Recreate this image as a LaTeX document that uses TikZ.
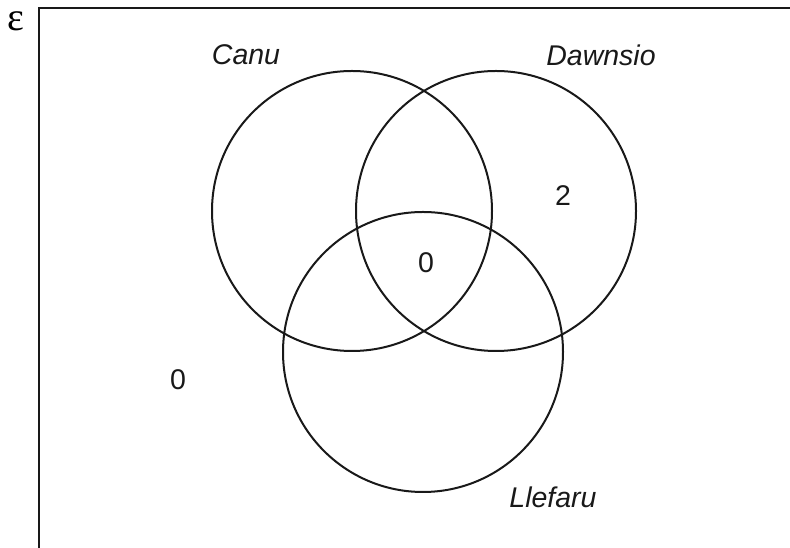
\documentclass[tikz,border=0pt]{standalone}
\usepackage{fontspec}
\setmainfont{Liberation Sans}
\newfontfamily\serifgreek{Liberation Serif}
\begin{document}
\begin{tikzpicture}[x=1pt,y=1pt,
  setcircle/.style={draw=black!90,line width=2pt,circle,minimum size=280pt,inner sep=0pt},
  setlabel/.style={font=\fontsize{28.5}{32}\selectfont\itshape,text=black!90,inner sep=0pt},
  countlabel/.style={font=\fontsize{28.5}{32}\selectfont,text=black!90,inner sep=0pt},
  frame/.style={draw=black!90,line width=2pt}]
\useasboundingbox (0,0) rectangle (790,548);
\coordinate (bl) at (39,0);
\coordinate (tl) at (39,540);
\coordinate (tr) at (790,540);
\draw[frame] (bl) -- (tl) -- (tr);
\node[font=\serifgreek\fontsize{40}{42}\selectfont,inner sep=0pt] (eps) at (16,527) {ε};
\node[setcircle] (canu) at (352,337) {};
\node[setcircle] (dawnsio) at (496,337) {};
\node[setcircle] (llefaru) at (423,196) {};
\node[setlabel] (lc) at (246,493) {Canu};
\node[setlabel] (ld) at (601,493) {Dawnsio};
\node[setlabel] (ll) at (553,51) {Llefaru};
\node[countlabel] (n2) at (563,352) {2};
\node[countlabel] (n0) at (426,285) {0};
\node[countlabel] (nout) at (178,168) {0};
\end{tikzpicture}
\end{document}
